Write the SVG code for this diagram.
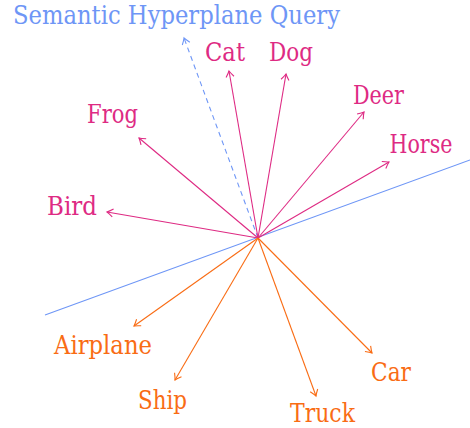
<svg xmlns="http://www.w3.org/2000/svg" width="470" height="428" viewBox="0 0 470 428">
<style>
.m{fill:#de2a83}.o{fill:#f96c14}.b{fill:#6e96f6}
.lm{stroke:#de2a83;stroke-width:1.1;fill:none;marker-end:url(#am)}
.lo{stroke:#f96c14;stroke-width:1.1;fill:none;marker-end:url(#ao)}
.lb{stroke:#6e96f6;stroke-width:1.1;fill:none}
</style>
<defs>
<marker id="am" markerUnits="userSpaceOnUse" viewBox="-8 -5 10 10" markerWidth="10" markerHeight="10" refX="0" refY="0" orient="auto"><path d="M-6,-4 Q-2,-1 0,0 Q-2,1 -6,4" fill="none" stroke="#de2a83" stroke-width="1.1"/></marker>
<marker id="ao" markerUnits="userSpaceOnUse" viewBox="-8 -5 10 10" markerWidth="10" markerHeight="10" refX="0" refY="0" orient="auto"><path d="M-6,-4 Q-2,-1 0,0 Q-2,1 -6,4" fill="none" stroke="#f96c14" stroke-width="1.1"/></marker>
<marker id="ab" markerUnits="userSpaceOnUse" viewBox="-8 -5 10 10" markerWidth="10" markerHeight="10" refX="0" refY="0" orient="auto"><path d="M-6,-4 Q-2,-1 0,0 Q-2,1 -6,4" fill="none" stroke="#6e96f6" stroke-width="1.1"/></marker>
</defs>
<g id="connectors">
<line class="lb" x1="45" y1="315" x2="470" y2="160"/>
<line class="lb" x1="258" y1="238" x2="184" y2="38" stroke-dasharray="5 4" marker-end="url(#ab)"/>
<line class="lm" x1="258" y1="238" x2="229" y2="71"/>
<line class="lm" x1="258" y1="238" x2="286" y2="74"/>
<line class="lm" x1="258" y1="238" x2="364" y2="112"/>
<line class="lm" x1="258" y1="238" x2="389" y2="162"/>
<line class="lm" x1="258" y1="238" x2="139" y2="138"/>
<line class="lm" x1="258" y1="238" x2="107" y2="212"/>
<line class="lo" x1="258" y1="238" x2="134" y2="326"/>
<line class="lo" x1="258" y1="238" x2="175" y2="380"/>
<line class="lo" x1="258" y1="238" x2="316" y2="396"/>
<line class="lo" x1="258" y1="238" x2="372" y2="353"/>
</g>
<g font-family="DejaVu Serif, serif" font-size="26" text-anchor="middle">
<g id="query"><text class="b" x="176.5" y="24" textLength="327" lengthAdjust="spacingAndGlyphs">Semantic Hyperplane Query</text></g>
<g id="cat"><text class="m" x="225" y="61" textLength="40" lengthAdjust="spacingAndGlyphs">Cat</text></g>
<g id="dog"><text class="m" x="291" y="61" textLength="44" lengthAdjust="spacingAndGlyphs">Dog</text></g>
<g id="deer"><text class="m" x="378.5" y="104" textLength="51" lengthAdjust="spacingAndGlyphs">Deer</text></g>
<g id="horse"><text class="m" x="421" y="153" textLength="63" lengthAdjust="spacingAndGlyphs">Horse</text></g>
<g id="frog"><text class="m" x="112.5" y="123" textLength="51" lengthAdjust="spacingAndGlyphs">Frog</text></g>
<g id="bird"><text class="m" x="72" y="215" textLength="50" lengthAdjust="spacingAndGlyphs">Bird</text></g>
<g id="airplane"><text class="o" x="103" y="354" textLength="98" lengthAdjust="spacingAndGlyphs">Airplane</text></g>
<g id="ship"><text class="o" x="162.5" y="409" textLength="49" lengthAdjust="spacingAndGlyphs">Ship</text></g>
<g id="truck"><text class="o" x="322.5" y="422" textLength="65" lengthAdjust="spacingAndGlyphs">Truck</text></g>
<g id="car"><text class="o" x="391" y="381" textLength="40" lengthAdjust="spacingAndGlyphs">Car</text></g>
</g>
</svg>
